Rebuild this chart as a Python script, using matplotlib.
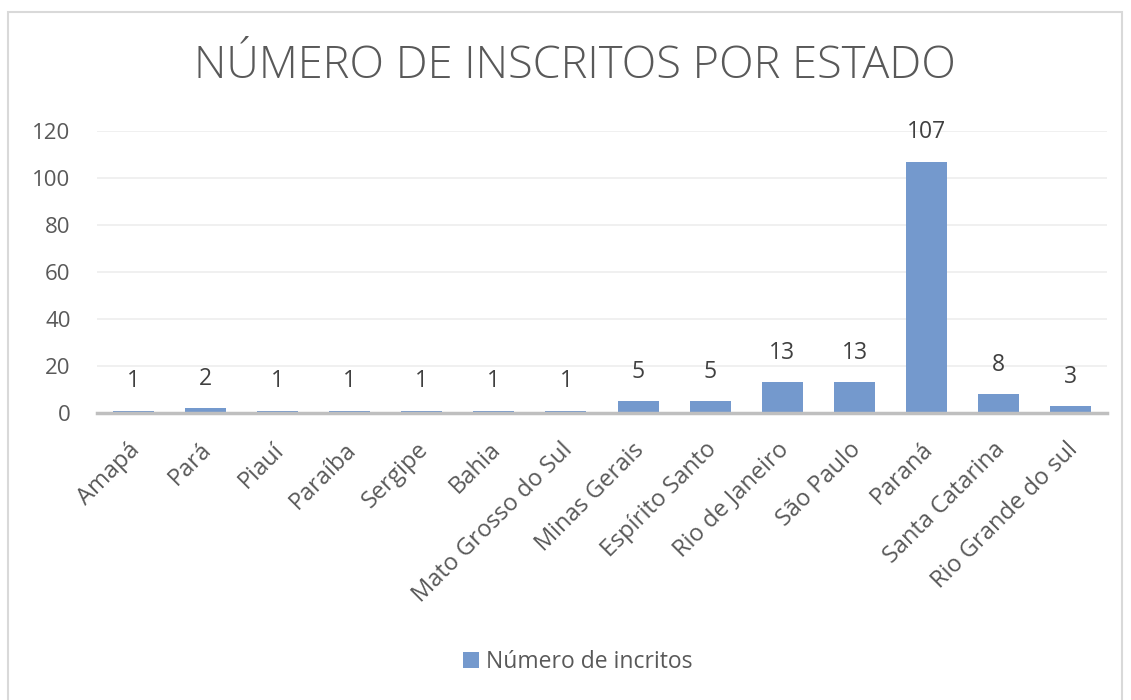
import matplotlib
matplotlib.use("Agg")
import matplotlib.pyplot as plt
import matplotlib.transforms as mtrans
from matplotlib.patches import Rectangle

estados = ["Amapá", "Pará", "Piauí", "Paraíba", "Sergipe", "Bahia",
           "Mato Grosso do Sul", "Minas Gerais", "Espírito Santo",
           "Rio de Janeiro", "São Paulo", "Paraná", "Santa Catarina",
           "Rio Grande do sul"]
inscritos = [1, 2, 1, 1, 1, 1, 1, 5, 5, 13, 13, 107, 8, 3]
yticks = [0, 20, 40, 60, 80, 100, 120]
titulo = "NÚMERO DE INSCRITOS POR ESTADO"
serie = "Número de incritos"

plt.rcParams['font.family'] = ['Open Sans', 'DejaVu Sans']

W, H = 1131, 700
fig = plt.figure(figsize=(W / 100, H / 100), dpi=100)
fig.patches.append(Rectangle((8 / W, -0.01), (1122 - 8) / W, (H - 12) / H + 0.01,
                             transform=fig.transFigure, fill=False,
                             edgecolor="#D9D9D9", linewidth=1.5))

ax = fig.add_axes([97 / W, (H - 413) / H, (1107 - 97) / W, (413 - 131) / H])
x = list(range(len(estados)))
bars = ax.bar(x, inscritos, width=0.57, color="#7499CD", zorder=3)
ax.set_xlim(-0.5, len(estados) - 0.5)
ax.set_ylim(0, 120)
ax.set_yticks(yticks)
ax.set_yticklabels([str(t) for t in yticks], fontsize=16, color="#595959")
ax.set_xticks(x)
ax.set_xticklabels(estados, rotation=45, ha="right", va="center",
                   rotation_mode="anchor", fontsize=17, color="#595959")
ax.tick_params(axis="both", length=0)
ax.tick_params(axis="y", pad=19)
ax.tick_params(axis="x", pad=24)
shift = mtrans.ScaledTranslation(3 / 100, 0, fig.dpi_scale_trans)
for lab in ax.get_xticklabels():
    lab.set_transform(lab.get_transform() + shift)
ax.grid(axis="y", color="#EDEDED", linewidth=1.2, zorder=0)
for s in ["top", "right", "left"]:
    ax.spines[s].set_visible(False)
ax.spines["bottom"].set_color("#BFBFBF")
ax.spines["bottom"].set_linewidth(2.5)
ax.spines["bottom"].set_zorder(4)

for xi, v in zip(x, inscritos):
    ax.annotate(str(v), (xi, v), xytext=(0, 21), textcoords="offset points",
                ha="center", va="center", fontsize=16.5, color="#404040")

fig.text(575 / W, (H - 67) / H, titulo, ha="center", va="center",
         fontsize=32.5, color="#595959", fontweight="light")

leg = fig.legend([bars], [serie], loc="center", bbox_to_anchor=(578 / W, (H - 662) / H),
                 frameon=False, fontsize=16.5, handlelength=0.7, handleheight=0.7,
                 handletextpad=0.3)
for t in leg.get_texts():
    t.set_color("#595959")

fig.savefig("out.png", dpi=100)
